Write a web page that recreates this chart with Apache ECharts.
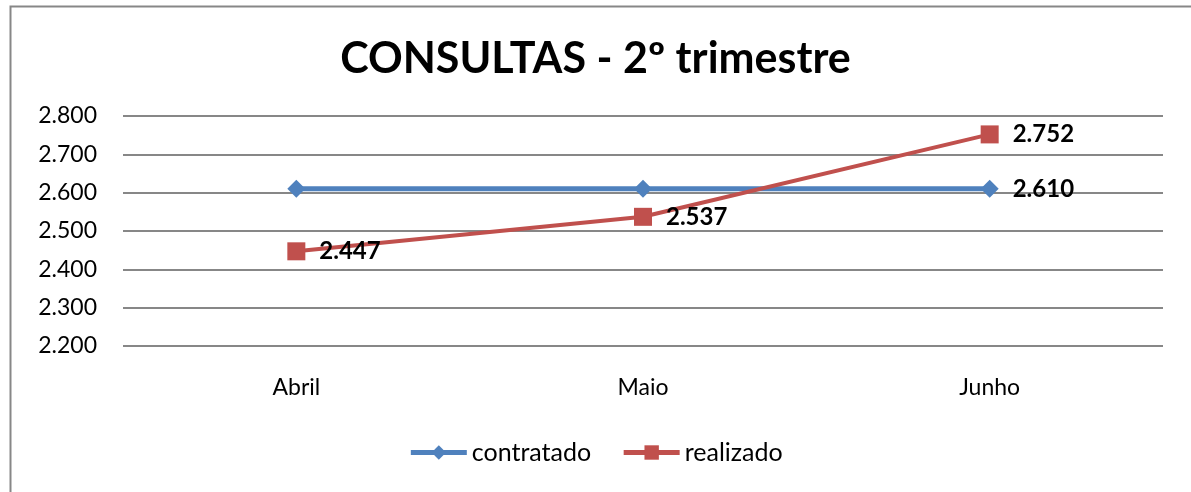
<!DOCTYPE html>
<html><head><meta charset="utf-8">
<script src="https://cdn.jsdelivr.net/npm/echarts@6/dist/echarts.min.js"></script>
<style>html,body{margin:0;padding:0;background:#fff}#c{width:1191px;height:492px}</style>
</head><body><div id="c"></div>
<script>
const categories = ['Abril', 'Maio', 'Junho'];
const contratado = [2610, 2610, 2610];
const realizado = [2447, 2537, 2752];
const yTicks = { min: 2200, max: 2800, interval: 100 };
const fmt = v => String(v).replace(/\B(?=(\d{3})+(?!\d))/g, '.');
const FONT = 'Lato, "Open Sans", sans-serif';
const chart = echarts.init(document.getElementById('c'));
chart.setOption({
  animation: false,
  textStyle: { fontFamily: FONT },
  graphic: [{ type: 'rect', left: 8, top: 4, shape: { width: 1200, height: 500 }, style: { fill: 'none', stroke: '#878787', lineWidth: 2 }, silent: true }],
  title: { text: 'CONSULTAS - 2º trimestre', left: 'center', top: 33, textStyle: { fontSize: 43, fontWeight: 'bold', color: '#000', fontFamily: FONT } },
  grid: { left: 123, right: 28, top: 116, bottom: 146 },
  xAxis: { type: 'category', data: categories, boundaryGap: true,
    axisLine: { show: false }, axisTick: { show: false },
    axisLabel: { fontSize: 23, color: '#000', margin: 30, fontFamily: FONT } },
  yAxis: { type: 'value', min: yTicks.min, max: yTicks.max, interval: yTicks.interval,
    axisLine: { show: false }, axisTick: { show: false },
    axisLabel: { fontSize: 23, color: '#000', margin: 26, formatter: fmt, fontFamily: FONT },
    splitLine: { lineStyle: { color: '#878787', width: 2 } } },
  legend: { bottom: 22, left: 'center', itemWidth: 56, itemHeight: 18, itemGap: 30,
    lineStyle: { width: 5 },
    textStyle: { fontSize: 25, color: '#000', fontFamily: FONT } },
  series: [
    { name: 'contratado', type: 'line', data: contratado, symbol: 'diamond', symbolSize: 18,
      itemStyle: { color: '#4F81BD' }, lineStyle: { color: '#4F81BD', width: 5 },
      label: { show: true, position: 'right', distance: 14, fontSize: 24, fontWeight: 'bold', color: '#000', fontFamily: FONT,
        formatter: p => p.dataIndex === 2 ? fmt(p.value) : '' } },
    { name: 'realizado', type: 'line', data: realizado, symbol: 'rect', symbolSize: 18,
      itemStyle: { color: '#C0504D' }, lineStyle: { color: '#C0504D', width: 4 },
      label: { show: true, position: 'right', distance: 14, fontSize: 24, fontWeight: 'bold', color: '#000', fontFamily: FONT,
        formatter: p => fmt(p.value) } }
  ]
});
</script></body></html>
